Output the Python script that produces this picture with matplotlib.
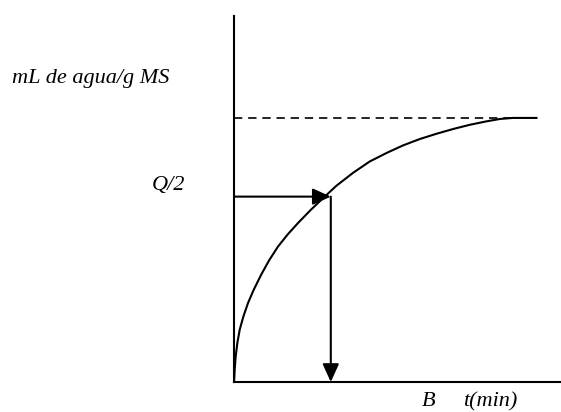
import matplotlib.pyplot as plt

# curve (t in min, Q in mL/g, Q_inf = 100)
t = [0, 0.11, 0.21, 0.52, 1.03, 1.74, 2.87, 4.28, 6.02, 8.38, 10.7, 13.46, 16.5, 19.57,
     23.5, 26.7, 31.3, 36.4, 41.5, 46.6, 51.7, 56.8, 61.9, 67.0, 72.1, 77.2,
     81.3, 85.3, 92.5]
q = [0, 2.1, 4.7, 9.7, 14.8, 19.8, 24.8, 29.9, 34.9, 40.8, 46.0, 51.3, 56.0, 60.2,
     65.2, 69.0, 74.3, 79.2, 83.5, 86.7, 89.6, 92.0, 94.0, 95.8, 97.4, 98.7,
     99.6, 100.0, 100.0]
q_inf = 100.0
q_mark = 70.2
b_time = 29.6

labels = {'y': 'mL de agua/g MS', 'half': 'Q/2', 'b': 'B', 'x': 't(min)'}

plt.rcParams['font.family'] = ['Liberation Serif', 'DejaVu Serif']

fig = plt.figure(figsize=(5.61, 4.12), dpi=100)
ax = fig.add_axes([234 / 561, 30 / 412, 327 / 561, 366 / 412])
ax.set_xlim(0, 100)
ax.set_ylim(0, 138.6)
for side in ['top', 'right']:
    ax.spines[side].set_visible(False)
for side in ['left', 'bottom']:
    ax.spines[side].set_linewidth(1.5)
ax.set_xticks([])
ax.set_yticks([])

ax.plot(t, q, color='k', lw=1.5)
ax.plot([0, t[-1]], [q_inf, q_inf], color='k', lw=1.2, ls=(0, (5, 3.5)))

arrow = dict(arrowstyle='-|>,head_length=1.1,head_width=0.5', color='k', lw=1.5,
             shrinkA=0, shrinkB=0, mutation_scale=10)
ax.annotate('', xy=(b_time, q_mark), xytext=(0, q_mark), arrowprops=arrow)
ax.annotate('', xy=(b_time, 0), xytext=(b_time, q_mark), arrowprops=arrow)

style = dict(fontsize=16, style='italic', va='baseline', ha='left')
fig.text(12 / 561, 1 - 83 / 412, labels['y'], **style)
fig.text(152 / 561, 1 - 190 / 412, labels['half'], **style)
fig.text(422 / 561, 1 - 406 / 412, labels['b'], **style)
fig.text(463 / 561, 1 - 406 / 412, labels['x'], **style)

fig.savefig('out.png', dpi=100)
